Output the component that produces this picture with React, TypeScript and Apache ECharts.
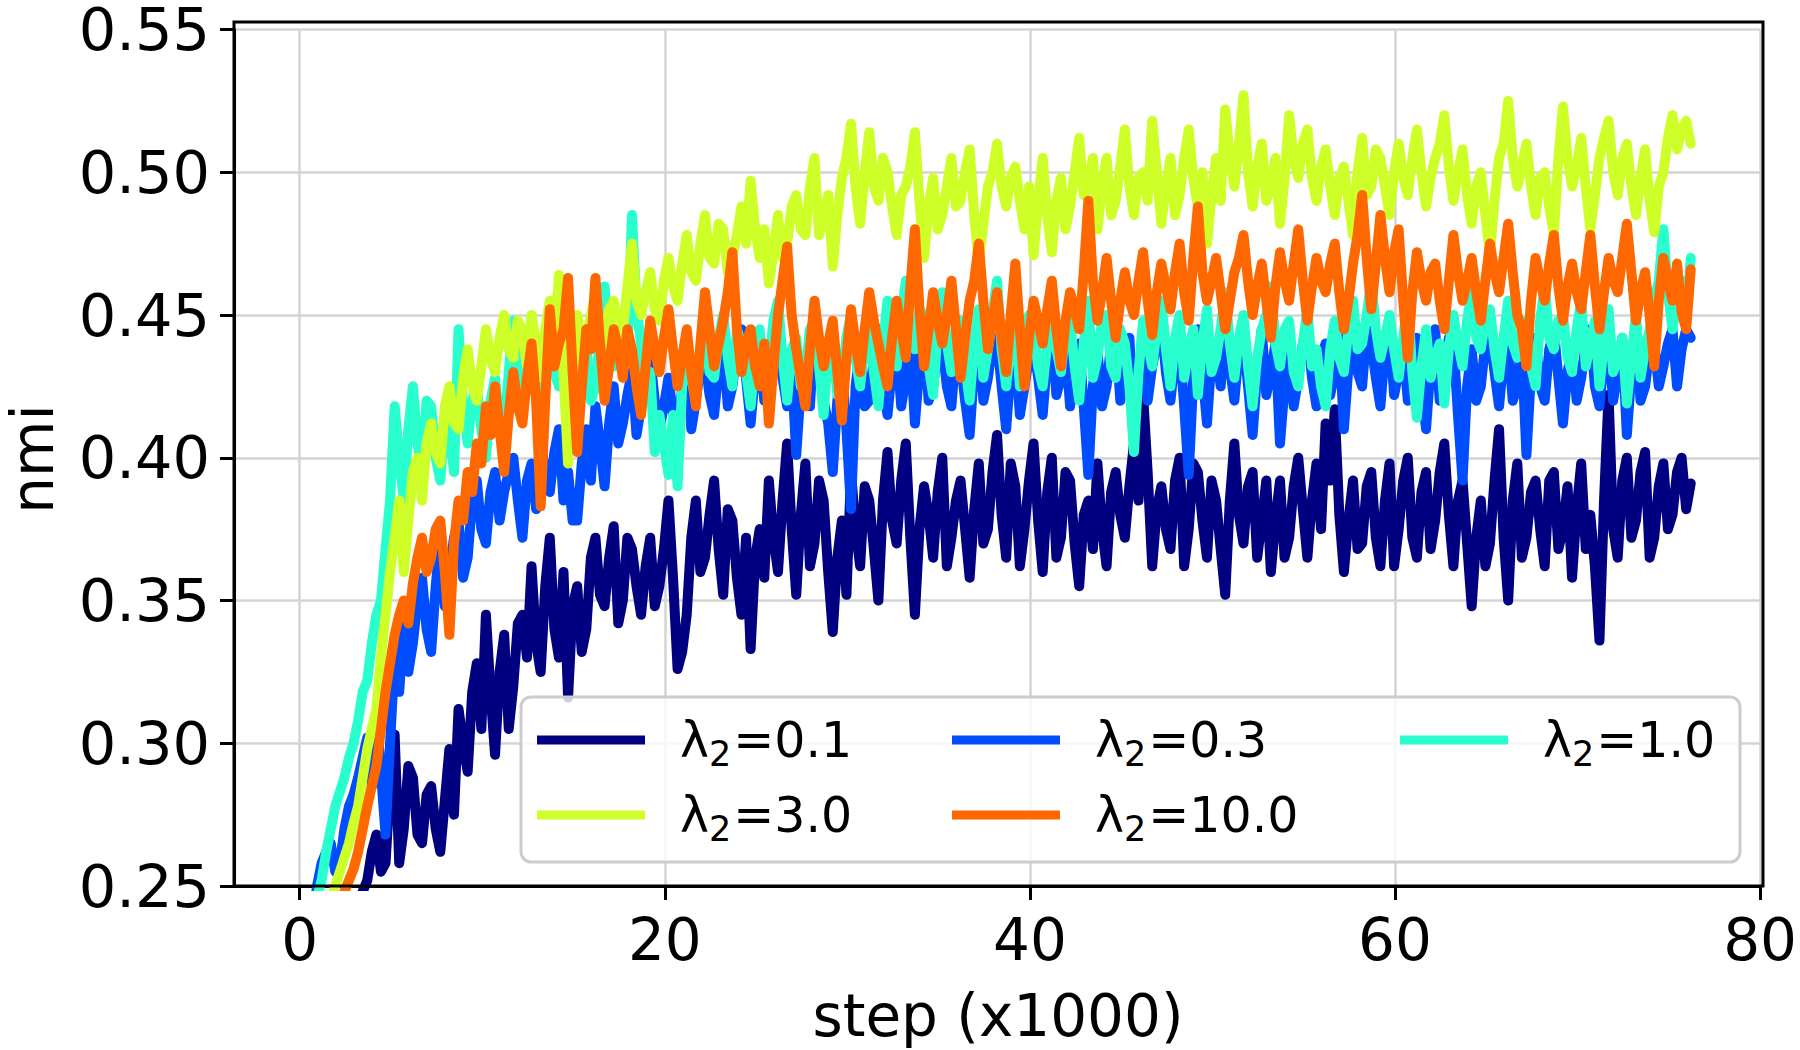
import React, { useEffect, useRef } from "react";
import * as echarts from "echarts";

// training steps (x1000), logged every 250 steps
const steps: number[] = Array.from({ length: 305 }, (_, i) => Math.round((0.2 + 0.25 * i) * 100) / 100);

const seriesNames = ["λ₂=0.1", "λ₂=0.3", "λ₂=1.0", "λ₂=3.0", "λ₂=10.0"];
const seriesColors = ["#000080", "#004cff", "#29ffce", "#ceff29", "#ff6800"];

const xTicks = [0, 20, 40, 60, 80];
const xMin = -3.6;
const xMax = 80;
const yMin = 0.25;
const yMax = 0.55;
const yStep = 0.05;

const nmiLambda01 = [
  0.200,0.204, 0.208,0.212, 0.215,0.218, 0.222,0.225, 0.228,0.232, 0.235,0.239, 0.243,0.248, 0.252,0.262, 0.268,0.255, 0.258,0.285,
  0.303,0.258, 0.270,0.292, 0.288,0.268, 0.265,0.282, 0.285,0.270, 0.262,0.280, 0.298,0.275, 0.312,0.300, 0.290,0.318, 0.328,0.305,
  0.345,0.318, 0.296,0.325, 0.338,0.305, 0.320,0.342, 0.345,0.330, 0.362,0.335, 0.325,0.355, 0.372,0.340, 0.330,0.360, 0.316,0.348,
  0.355,0.332, 0.340,0.365, 0.372,0.352, 0.348,0.365, 0.376,0.342, 0.350,0.372, 0.368,0.355, 0.345,0.362, 0.372,0.348, 0.355,0.368,
  0.385,0.358, 0.326,0.332, 0.345,0.372, 0.385,0.360, 0.365,0.380, 0.392,0.368, 0.352,0.382, 0.378,0.358, 0.345,0.372, 0.333,0.365,
  0.375,0.358, 0.392,0.372, 0.360,0.385, 0.405,0.375, 0.352,0.380, 0.398,0.362, 0.370,0.392, 0.385,0.360, 0.339,0.365, 0.378,0.352,
  0.395,0.375, 0.362,0.390, 0.385,0.368, 0.350,0.385, 0.402,0.378, 0.370,0.392, 0.405,0.372, 0.345,0.375, 0.390,0.380, 0.365,0.388,
  0.400,0.362, 0.372,0.385, 0.392,0.375, 0.358,0.382, 0.398,0.370, 0.375,0.395, 0.408,0.380, 0.365,0.398, 0.390,0.362, 0.375,0.392,
  0.405,0.378, 0.360,0.388, 0.400,0.365, 0.372,0.395, 0.392,0.370, 0.355,0.380, 0.385,0.368, 0.398,0.375, 0.362,0.388, 0.395,0.380,
  0.372,0.390, 0.405,0.385, 0.422,0.395, 0.362,0.382, 0.390,0.375, 0.368,0.392, 0.400,0.362, 0.375,0.398, 0.395,0.378, 0.365,0.392,
  0.385,0.368, 0.352,0.385, 0.405,0.380, 0.370,0.390, 0.395,0.365, 0.378,0.392, 0.360,0.378, 0.392,0.365, 0.372,0.390, 0.400,0.382,
  0.365,0.385, 0.398,0.375, 0.412,0.392, 0.417,0.380, 0.360,0.378, 0.392,0.368, 0.370,0.390, 0.395,0.372, 0.362,0.385, 0.398,0.362,
  0.375,0.392, 0.400,0.372, 0.365,0.388, 0.395,0.368, 0.378,0.395, 0.405,0.380, 0.362,0.385, 0.392,0.370, 0.348,0.372, 0.385,0.362,
  0.370,0.392, 0.410,0.372, 0.350,0.385, 0.398,0.365, 0.372,0.388, 0.392,0.375, 0.362,0.392, 0.395,0.368, 0.375,0.390, 0.358,0.382,
  0.398,0.368, 0.380,0.362, 0.336,0.385, 0.422,0.375, 0.365,0.392, 0.400,0.372, 0.378,0.395, 0.402,0.365, 0.372,0.390, 0.398,0.375,
  0.380,0.395, 0.400,0.382, 0.391,
];

const nmiLambda03 = [
  0.225,0.232, 0.238,0.250, 0.258,0.262, 0.265,0.255, 0.258,0.270, 0.278,0.282, 0.288,0.295, 0.302,0.285, 0.310,0.290, 0.268,0.300,
  0.330,0.318, 0.342,0.325, 0.335,0.350, 0.358,0.340, 0.332,0.355, 0.372,0.348, 0.360,0.372, 0.378,0.358, 0.365,0.385, 0.392,0.375,
  0.370,0.388, 0.395,0.378, 0.388,0.395, 0.400,0.385, 0.372,0.392, 0.398,0.382, 0.405,0.395, 0.388,0.402, 0.410,0.385, 0.395,0.378,
  0.378,0.398, 0.410,0.392, 0.418,0.405, 0.390,0.412, 0.425,0.405, 0.412,0.422, 0.430,0.408, 0.418,0.428, 0.435,0.420, 0.410,0.418,
  0.428,0.415, 0.405,0.425, 0.438,0.410, 0.420,0.432, 0.435,0.422, 0.415,0.432, 0.440,0.418, 0.425,0.438, 0.445,0.428, 0.412,0.430,
  0.438,0.420, 0.425,0.440, 0.442,0.428, 0.418,0.432, 0.401,0.425, 0.435,0.418, 0.445,0.432, 0.420,0.412, 0.395,0.420, 0.432,0.410,
  0.382,0.425, 0.438,0.418, 0.420,0.435, 0.445,0.425, 0.415,0.432, 0.440,0.418, 0.428,0.440, 0.412,0.432, 0.445,0.420, 0.425,0.438,
  0.440,0.425, 0.418,0.438, 0.435,0.420, 0.408,0.432, 0.445,0.420, 0.428,0.440, 0.442,0.425, 0.410,0.432, 0.438,0.415, 0.425,0.435,
  0.440,0.428, 0.415,0.435, 0.445,0.422, 0.428,0.440, 0.418,0.432, 0.440,0.418, 0.394,0.425, 0.438,0.418, 0.425,0.440, 0.445,0.420,
  0.430,0.442, 0.410,0.428, 0.442,0.420, 0.432,0.440, 0.448,0.430, 0.420,0.435, 0.440,0.418, 0.394,0.428, 0.445,0.430, 0.412,0.435,
  0.438,0.425, 0.448,0.432, 0.420,0.438, 0.442,0.425, 0.408,0.430, 0.445,0.422, 0.430,0.440, 0.405,0.425, 0.440,0.418, 0.428,0.440,
  0.445,0.428, 0.418,0.435, 0.440,0.422, 0.430,0.442, 0.410,0.432, 0.448,0.430, 0.425,0.445, 0.440,0.428, 0.418,0.438, 0.445,0.422,
  0.430,0.440, 0.420,0.432, 0.442,0.425, 0.410,0.432, 0.445,0.420, 0.428,0.442, 0.440,0.415, 0.392,0.425, 0.438,0.420, 0.425,0.440,
  0.445,0.430, 0.418,0.435, 0.440,0.420, 0.425,0.438, 0.401,0.430, 0.442,0.425, 0.420,0.438, 0.445,0.428, 0.412,0.430, 0.438,0.420,
  0.428,0.440, 0.445,0.425, 0.418,0.435, 0.440,0.420, 0.430,0.442, 0.408,0.430, 0.445,0.420, 0.425,0.438, 0.440,0.425, 0.432,0.440,
  0.445,0.425, 0.438,0.445, 0.442,
];

const nmiLambda10 = [
  0.228,0.235, 0.240,0.246, 0.252,0.262, 0.270,0.278, 0.283,0.288, 0.295,0.300, 0.308,0.318, 0.322,0.335, 0.345,0.350, 0.368,0.385,
  0.418,0.400, 0.385,0.410, 0.425,0.405, 0.395,0.420, 0.418,0.400, 0.392,0.412, 0.410,0.395, 0.445,0.418, 0.405,0.420, 0.425,0.410,
  0.400,0.420, 0.428,0.412, 0.410,0.430, 0.448,0.425, 0.418,0.435, 0.440,0.420, 0.405,0.432, 0.452,0.430, 0.425,0.440, 0.445,0.425,
  0.415,0.432, 0.440,0.420, 0.425,0.442, 0.460,0.438, 0.432,0.450, 0.445,0.438, 0.485,0.452, 0.440,0.425, 0.430,0.402, 0.415,0.405,
  0.394,0.415, 0.390,0.425, 0.440,0.428, 0.420,0.438, 0.445,0.430, 0.428,0.442, 0.450,0.435, 0.425,0.445, 0.440,0.430, 0.418,0.435,
  0.445,0.425, 0.432,0.448, 0.455,0.435, 0.420,0.438, 0.442,0.425, 0.430,0.445, 0.448,0.432, 0.415,0.438, 0.440,0.422, 0.428,0.442,
  0.450,0.435, 0.425,0.440, 0.445,0.430, 0.418,0.440, 0.455,0.438, 0.432,0.448, 0.462,0.440, 0.438,0.452, 0.450,0.432, 0.422,0.445,
  0.458,0.440, 0.430,0.445, 0.448,0.432, 0.420,0.440, 0.452,0.428, 0.438,0.450, 0.462,0.438, 0.425,0.440, 0.448,0.425, 0.432,0.450,
  0.445,0.432, 0.425,0.440, 0.452,0.438, 0.430,0.445, 0.448,0.432, 0.420,0.440, 0.455,0.428, 0.435,0.448, 0.450,0.432, 0.428,0.445,
  0.440,0.425, 0.402,0.430, 0.448,0.440, 0.432,0.445, 0.455,0.438, 0.425,0.442, 0.450,0.428, 0.438,0.445, 0.422,0.440, 0.452,0.430,
  0.435,0.445, 0.458,0.440, 0.428,0.442, 0.450,0.432, 0.418,0.435, 0.445,0.450, 0.460,0.440, 0.432,0.445, 0.448,0.430, 0.425,0.440,
  0.452,0.432, 0.438,0.425, 0.418,0.438, 0.448,0.435, 0.430,0.445, 0.455,0.438, 0.440,0.450, 0.462,0.445, 0.435,0.442, 0.450,0.438,
  0.428,0.442, 0.455,0.430, 0.414,0.432, 0.445,0.428, 0.435,0.440, 0.419,0.438, 0.450,0.440, 0.432,0.448, 0.458,0.442, 0.438,0.448,
  0.452,0.438, 0.428,0.442, 0.455,0.440, 0.435,0.445, 0.448,0.432, 0.425,0.448, 0.460,0.442, 0.438,0.448, 0.450,0.435, 0.430,0.445,
  0.455,0.432, 0.440,0.448, 0.425,0.440, 0.452,0.430, 0.435,0.442, 0.419,0.435, 0.450,0.428, 0.438,0.445, 0.455,0.462, 0.480,0.458,
  0.445,0.455, 0.462,0.448, 0.470,
];

const nmiLambda30 = [
  0.212,0.218, 0.222,0.228, 0.235,0.240, 0.245,0.250, 0.255,0.260, 0.265,0.272, 0.278,0.288, 0.298,0.305, 0.312,0.330, 0.345,0.360,
  0.372,0.385, 0.360,0.378, 0.395,0.400, 0.385,0.405, 0.412,0.402, 0.398,0.418, 0.425,0.412, 0.410,0.428, 0.438,0.425, 0.420,0.432,
  0.445,0.435, 0.430,0.442, 0.450,0.438, 0.435,0.448, 0.445,0.432, 0.450,0.440, 0.428,0.445, 0.455,0.440, 0.464,0.430, 0.398,0.425,
  0.450,0.438, 0.442,0.450, 0.458,0.445, 0.440,0.452, 0.455,0.442, 0.445,0.460, 0.475,0.455, 0.450,0.458, 0.465,0.452, 0.448,0.462,
  0.470,0.460, 0.455,0.468, 0.478,0.465, 0.462,0.475, 0.485,0.470, 0.468,0.482, 0.480,0.465, 0.470,0.478, 0.488,0.475, 0.497,0.480,
  0.470,0.480, 0.461,0.472, 0.485,0.470, 0.475,0.488, 0.492,0.480, 0.478,0.495, 0.505,0.478, 0.485,0.492, 0.467,0.485, 0.498,0.505,
  0.517,0.495, 0.482,0.500, 0.514,0.495, 0.490,0.505, 0.500,0.488, 0.478,0.492, 0.495,0.502, 0.514,0.490, 0.470,0.488, 0.498,0.480,
  0.485,0.495, 0.505,0.488, 0.490,0.500, 0.508,0.485, 0.468,0.482, 0.495,0.500, 0.510,0.495, 0.488,0.498, 0.502,0.490, 0.480,0.495,
  0.471,0.490, 0.505,0.485, 0.472,0.490, 0.498,0.480, 0.488,0.500, 0.512,0.492, 0.495,0.505, 0.480,0.495, 0.505,0.485, 0.490,0.502,
  0.515,0.495, 0.485,0.498, 0.500,0.490, 0.518,0.500, 0.482,0.495, 0.505,0.485, 0.492,0.505, 0.515,0.498, 0.488,0.500, 0.475,0.492,
  0.505,0.490, 0.522,0.505, 0.495,0.510, 0.527,0.500, 0.488,0.502, 0.510,0.490, 0.495,0.505, 0.482,0.498, 0.520,0.505, 0.498,0.510,
  0.515,0.498, 0.490,0.502, 0.508,0.495, 0.485,0.498, 0.502,0.490, 0.478,0.500, 0.512,0.492, 0.495,0.508, 0.505,0.495, 0.485,0.500,
  0.510,0.498, 0.492,0.505, 0.515,0.500, 0.488,0.498, 0.505,0.510, 0.520,0.502, 0.490,0.500, 0.508,0.492, 0.482,0.495, 0.500,0.485,
  0.471,0.490, 0.505,0.510, 0.525,0.505, 0.495,0.502, 0.510,0.495, 0.485,0.498, 0.500,0.488, 0.478,0.505, 0.523,0.505, 0.495,0.502,
  0.512,0.495, 0.480,0.492, 0.505,0.512, 0.518,0.500, 0.492,0.505, 0.510,0.495, 0.485,0.498, 0.508,0.490, 0.479,0.495, 0.500,0.512,
  0.520,0.508, 0.515,0.518, 0.510,
];

const nmiLambda100 = [
  0.205,0.210, 0.215,0.220, 0.225,0.230, 0.235,0.238, 0.243,0.248, 0.252,0.256, 0.262,0.270, 0.278,0.285, 0.292,0.305, 0.318,0.328,
  0.338,0.345, 0.350,0.342, 0.356,0.365, 0.372,0.360, 0.365,0.375, 0.378,0.360, 0.338,0.370, 0.385,0.378, 0.395,0.388, 0.405,0.398,
  0.418,0.408, 0.425,0.410, 0.395,0.415, 0.430,0.418, 0.412,0.428, 0.440,0.420, 0.383,0.420, 0.452,0.432, 0.440,0.445, 0.463,0.430,
  0.402,0.425, 0.445,0.438, 0.463,0.440, 0.420,0.432, 0.445,0.438, 0.428,0.445, 0.438,0.425, 0.415,0.432, 0.448,0.438, 0.430,0.442,
  0.452,0.438, 0.425,0.435, 0.445,0.430, 0.418,0.440, 0.458,0.445, 0.432,0.440, 0.448,0.458, 0.472,0.445, 0.430,0.440, 0.445,0.432,
  0.425,0.440, 0.412,0.432, 0.450,0.462, 0.474,0.450, 0.438,0.428, 0.418,0.438, 0.455,0.442, 0.432,0.440, 0.448,0.430, 0.413,0.435,
  0.452,0.440, 0.430,0.445, 0.458,0.448, 0.440,0.432, 0.425,0.442, 0.455,0.445, 0.435,0.460, 0.480,0.452, 0.432,0.445, 0.458,0.448,
  0.440,0.450, 0.462,0.445, 0.428,0.442, 0.455,0.462, 0.475,0.455, 0.438,0.448, 0.458,0.442, 0.430,0.450, 0.468,0.445, 0.425,0.442,
  0.455,0.448, 0.440,0.452, 0.462,0.445, 0.432,0.448, 0.458,0.452, 0.445,0.465, 0.490,0.462, 0.448,0.458, 0.470,0.455, 0.442,0.455,
  0.465,0.455, 0.450,0.462, 0.472,0.455, 0.443,0.458, 0.468,0.460, 0.452,0.465, 0.475,0.458, 0.448,0.470, 0.488,0.465, 0.455,0.462,
  0.470,0.458, 0.445,0.455, 0.465,0.470, 0.478,0.462, 0.450,0.460, 0.468,0.455, 0.442,0.460, 0.472,0.462, 0.455,0.468, 0.480,0.462,
  0.448,0.460, 0.470,0.462, 0.458,0.468, 0.475,0.458, 0.445,0.455, 0.468,0.478, 0.492,0.470, 0.452,0.468, 0.485,0.470, 0.458,0.472,
  0.480,0.455, 0.435,0.458, 0.472,0.462, 0.455,0.465, 0.468,0.455, 0.445,0.462, 0.478,0.465, 0.455,0.462, 0.470,0.458, 0.448,0.462,
  0.475,0.465, 0.458,0.470, 0.482,0.465, 0.450,0.445, 0.432,0.455, 0.470,0.462, 0.455,0.468, 0.478,0.460, 0.448,0.460, 0.468,0.458,
  0.452,0.465, 0.478,0.460, 0.445,0.458, 0.470,0.462, 0.458,0.470, 0.482,0.465, 0.448,0.458, 0.465,0.450, 0.432,0.455, 0.470,0.462,
  0.455,0.468, 0.451,0.445, 0.466,
];

const seriesValues = [nmiLambda01, nmiLambda03, nmiLambda10, nmiLambda30, nmiLambda100];

const FONT = "DejaVu Sans";

export default function App() {
  const ref = useRef<HTMLDivElement>(null);

  useEffect(() => {
    if (!ref.current) return;
    const chart = echarts.init(ref.current, null, { renderer: "svg" });

    const gridLeft = 234;
    const gridTop = 22;
    const gridWidth = 1529;
    const gridHeight = 864;

    const legendSlots = [
      { left: 537, top: 712 },
      { left: 952, top: 712 },
      { left: 1400, top: 712 },
      { left: 537, top: 787 },
      { left: 952, top: 787 },
    ];

    const legends = seriesNames.map((name, k) => ({
      show: true,
      left: legendSlots[k].left,
      top: legendSlots[k].top,
      padding: 0,
      orient: "horizontal",
      selectedMode: false,
      itemWidth: 108,
      itemHeight: 9,
      z: 6,
      data: [{ name, icon: "rect" }],
      formatter: (n: string) => `{l|λ}{s|2}{t|${n.replace("λ₂", "")}}`,
      textStyle: {
        fontFamily: FONT,
        fontSize: 49,
        color: "#000",
        lineHeight: 56,
        padding: [0, 0, 0, 30],
        rich: {
          l: { fontFamily: FONT, fontSize: 49, color: "#000", lineHeight: 56, verticalAlign: "middle" },
          s: { fontFamily: FONT, fontSize: 35, color: "#000", height: 28, lineHeight: 28, verticalAlign: "bottom", padding: [0, 2, 0, 0] },
          t: { fontFamily: FONT, fontSize: 49, color: "#000", lineHeight: 56, verticalAlign: "middle" },
        },
      },
    }));

    const option: any = {
      animation: false,
      backgroundColor: "#ffffff",
      textStyle: { fontFamily: FONT },
      grid: { left: gridLeft, top: gridTop, width: gridWidth, height: gridHeight, show: false },
      xAxis: {
        type: "value",
        min: xMin,
        max: xMax,
        splitNumber: 4,
        axisLine: { show: true, onZero: false, lineStyle: { color: "#000", width: 3 } },
        axisTick: {
          show: true,
          length: 14,
          customValues: xTicks,
          lineStyle: { color: "#000", width: 3 },
        },
        axisLabel: {
          customValues: xTicks,
          fontFamily: FONT,
          fontSize: 58,
          color: "#000",
          margin: 25,
          formatter: (v: number) => String(Math.round(v)),
        },
        splitLine: { show: true, lineStyle: { color: "#d4d4d4", width: 2.5 } },
      },
      yAxis: {
        type: "value",
        min: yMin,
        max: yMax,
        interval: yStep,
        axisLine: { show: true, onZero: false, lineStyle: { color: "#000", width: 3 } },
        axisTick: { show: true, length: 14, lineStyle: { color: "#000", width: 3 } },
        axisLabel: {
          fontFamily: FONT,
          fontSize: 59,
          color: "#000",
          margin: 24,
          lineHeight: 30,
          formatter: (v: number) => v.toFixed(2),
        },
        splitLine: { show: true, lineStyle: { color: "#d4d4d4", width: 2.5 } },
      },
      legend: legends,
      graphic: [
        {
          type: "rect",
          z: 3,
          silent: true,
          shape: { x: 521, y: 697, width: 1219, height: 165, r: 10 },
          style: { fill: "rgba(255,255,255,0.8)", stroke: "#cccccc", lineWidth: 3 },
        },
        {
          type: "rect",
          z: 5,
          silent: true,
          shape: { x: gridLeft, y: gridTop, width: gridWidth, height: gridHeight },
          style: { fill: "none", stroke: "#000", lineWidth: 3 },
        },
        {
          type: "text",
          z: 5,
          x: 998,
          y: 1016,
          style: {
            text: "step (x1000)",
            fontFamily: FONT,
            fontSize: 58,
            lineHeight: 50,
            fill: "#000",
            align: "center",
            verticalAlign: "middle",
          },
        },
        {
          type: "text",
          z: 5,
          x: 33,
          y: 459,
          rotation: Math.PI / 2,
          style: {
            text: "nmi",
            fontFamily: FONT,
            fontSize: 58,
            lineHeight: 44,
            fill: "#000",
            align: "center",
            verticalAlign: "middle",
          },
        },
      ],
      series: seriesNames.map((name, k) => ({
        name,
        type: "line",
        color: seriesColors[k],
        showSymbol: false,
        symbol: "none",
        clip: true,
        z: 2,
        lineStyle: { color: seriesColors[k], width: 10, cap: "round", join: "round" },
        emphasis: { disabled: true },
        data: steps.map((x, i) => [x, seriesValues[k][i]]),
      })),
    };

    chart.setOption(option);
    return () => chart.dispose();
  }, []);

  return (
    <div
      ref={ref}
      style={{ position: "fixed", left: 0, top: 0, width: 1800, height: 1050, background: "#fff" }}
    />
  );
}
